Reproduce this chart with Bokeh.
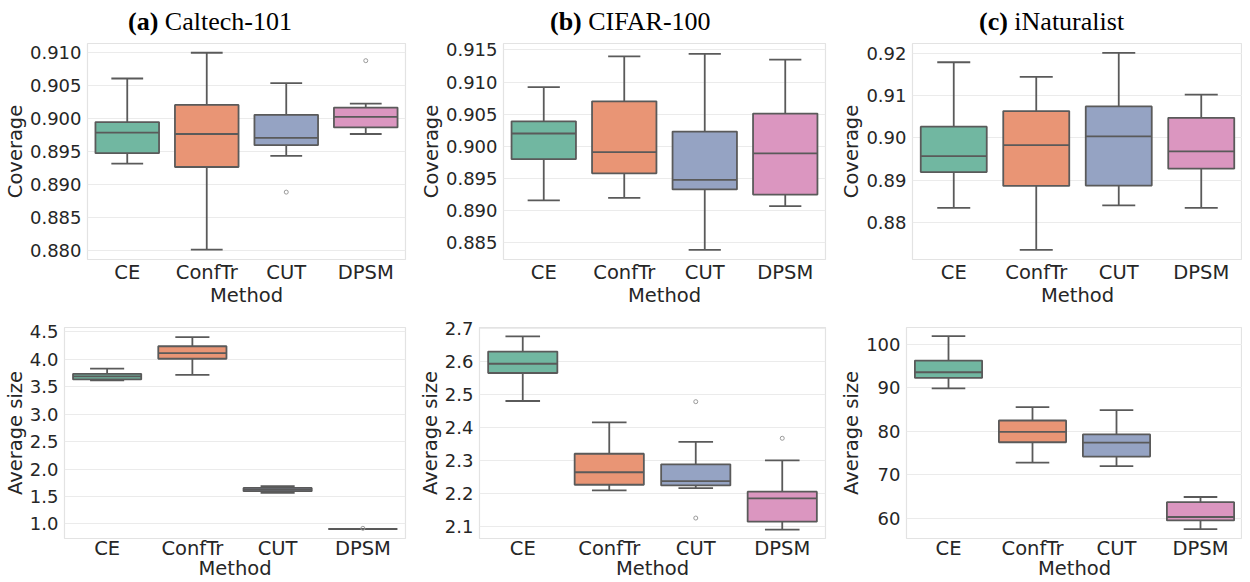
from bokeh.plotting import figure
from bokeh.layouts import column, row
from bokeh.models import Range1d, FixedTicker, PrintfTickFormatter, Div
from bokeh.embed import file_html
from bokeh.resources import INLINE

# ---------------- data ----------------
methods = ["CE", "ConfTr", "CUT", "DPSM"]
colors = ["#71b7a1", "#e99575", "#95a3c3", "#db96c0"]

# (a) Caltech-101 coverage
cal_cov_low = [0.8931, 0.8801, 0.8943, 0.8976]
cal_cov_q1 = [0.8947, 0.8926, 0.8959, 0.8986]
cal_cov_med = [0.8978, 0.8976, 0.8970, 0.9002]
cal_cov_q3 = [0.8994, 0.9020, 0.9005, 0.9016]
cal_cov_high = [0.9060, 0.9099, 0.9053, 0.9022]
cal_cov_out_m = ["CUT", "DPSM"]
cal_cov_out_v = [0.8888, 0.9087]

# (b) CIFAR-100 coverage
cif_cov_low = [0.8916, 0.8920, 0.8839, 0.8907]
cif_cov_q1 = [0.8980, 0.8958, 0.8933, 0.8925]
cif_cov_med = [0.9020, 0.8991, 0.8948, 0.8989]
cif_cov_q3 = [0.9039, 0.9070, 0.9023, 0.9051]
cif_cov_high = [0.9092, 0.9140, 0.9144, 0.9135]
cif_cov_out_m = []
cif_cov_out_v = []

# (c) iNaturalist coverage
inat_cov_low = [0.8834, 0.8734, 0.8840, 0.8834]
inat_cov_q1 = [0.8919, 0.8886, 0.8887, 0.8927]
inat_cov_med = [0.8957, 0.8983, 0.9004, 0.8968]
inat_cov_q3 = [0.9027, 0.9064, 0.9075, 0.9048]
inat_cov_high = [0.9180, 0.9145, 0.9202, 0.9103]
inat_cov_out_m = []
inat_cov_out_v = []

# (a) Caltech-101 average size
cal_size_low = [3.613, 3.716, 1.567, 0.906]
cal_size_q1 = [3.631, 4.008, 1.597, 0.908]
cal_size_med = [3.689, 4.110, 1.627, 0.910]
cal_size_q3 = [3.734, 4.236, 1.657, 0.911]
cal_size_high = [3.829, 4.403, 1.687, 0.913]
cal_size_out_m = ["DPSM"]
cal_size_out_v = [0.921]

# (b) CIFAR-100 average size
cif_size_low = [2.481, 2.210, 2.217, 2.091]
cif_size_q1 = [2.566, 2.227, 2.225, 2.115]
cif_size_med = [2.594, 2.265, 2.238, 2.186]
cif_size_q3 = [2.631, 2.321, 2.289, 2.206]
cif_size_high = [2.677, 2.416, 2.357, 2.301]
cif_size_out_m = ["CUT", "CUT", "DPSM"]
cif_size_out_v = [2.479, 2.126, 2.368]

# (c) iNaturalist average size
inat_size_low = [89.9, 72.8, 72.0, 57.5]
inat_size_q1 = [92.3, 77.5, 74.2, 59.5]
inat_size_med = [93.6, 79.9, 77.4, 60.3]
inat_size_q3 = [96.3, 82.5, 79.3, 63.7]
inat_size_high = [101.9, 85.6, 84.9, 64.9]
inat_size_out_m = []
inat_size_out_v = []

# tick labels
cal_cov_ticks = [0.880, 0.885, 0.890, 0.895, 0.900, 0.905, 0.910]
cif_cov_ticks = [0.885, 0.890, 0.895, 0.900, 0.905, 0.910, 0.915]
inat_cov_ticks = [0.88, 0.89, 0.90, 0.91, 0.92]
cal_size_ticks = [1.0, 1.5, 2.0, 2.5, 3.0, 3.5, 4.0, 4.5]
cif_size_ticks = [2.1, 2.2, 2.3, 2.4, 2.5, 2.6, 2.7]
inat_size_ticks = [60, 70, 80, 90, 100]

titles = [("(a)", "Caltech-101"), ("(b)", "CIFAR-100"), ("(c)", "iNaturalist")]
x_label = "Method"

# ---------------- style ----------------
LINE = "#5a5a5a"
TXT = "#262626"
GRID = "#ebebeb"
SANS = "DejaVu Sans"


def panel(low, q1, med, q3, high, out_m, out_v, ticks, fmt, yr, ylabel,
          width, height, bl, br, bt, bb, xstand):
    pos = list(range(len(methods)))
    p = figure(width=width, height=height, output_backend="svg",
               toolbar_location=None, x_range=Range1d(-0.5, len(methods) - 0.5),
               y_range=Range1d(*yr), min_border_left=bl, min_border_right=br,
               min_border_top=bt, min_border_bottom=bb)
    p.background_fill_color = "white"
    p.border_fill_color = "white"
    p.outline_line_color = "#e3e3e3"
    p.outline_line_width = 1.2
    p.xgrid.grid_line_color = None
    p.ygrid.grid_line_color = GRID
    p.ygrid.grid_line_width = 1

    # whiskers
    p.segment(x0=pos, y0=q3, x1=pos, y1=high, line_color=LINE, line_width=1.8)
    p.segment(x0=pos, y0=low, x1=pos, y1=q1, line_color=LINE, line_width=1.8)
    # caps
    p.segment(x0=[x - 0.2 for x in pos], y0=high, x1=[x + 0.2 for x in pos], y1=high,
              line_color=LINE, line_width=1.8)
    p.segment(x0=[x - 0.2 for x in pos], y0=low, x1=[x + 0.2 for x in pos], y1=low,
              line_color=LINE, line_width=1.8)
    # boxes
    p.vbar(x=pos, bottom=q1, top=q3, width=0.8, fill_color=colors,
           line_color=LINE, line_width=1.8)
    # medians
    p.segment(x0=[x - 0.4 for x in pos], y0=med, x1=[x + 0.4 for x in pos], y1=med,
              line_color=LINE, line_width=1.8)
    # outliers
    if out_m:
        ox = [methods.index(m) for m in out_m]
        p.scatter(x=ox, y=out_v, marker="circle", size=4, fill_color=None,
                  line_color="#9a9a9a", line_width=1)

    p.xaxis.ticker = FixedTicker(ticks=pos)
    p.xaxis.major_label_overrides = {i: m for i, m in enumerate(methods)}
    p.xaxis.axis_label = x_label
    p.yaxis.ticker = FixedTicker(ticks=ticks)
    p.yaxis.formatter = PrintfTickFormatter(format=fmt)
    p.yaxis.axis_label = ylabel
    for ax in (p.xaxis[0], p.yaxis[0]):
        ax.axis_line_color = None
        ax.major_tick_line_color = None
        ax.minor_tick_line_color = None
        ax.major_tick_out = 0
        ax.major_tick_in = 0
        ax.major_label_text_font = SANS
        ax.major_label_text_color = TXT
        ax.axis_label_text_font = SANS
        ax.axis_label_text_color = TXT
        ax.axis_label_text_font_style = "normal"
        ax.axis_label_text_font_size = "19.5px"
    p.xaxis.major_label_text_font_size = "19.5px"
    p.yaxis.major_label_text_font_size = "18px"
    p.xaxis.major_label_standoff = xstand[0]
    p.xaxis.axis_label_standoff = xstand[1]
    p.yaxis.major_label_standoff = 6
    p.yaxis.axis_label_standoff = 0
    return p


# titles row (HTML text, positions relative to the layout's left edge)
title_left = [128, 550, 979]
spans = "".join(
    f'<span style="position:absolute;left:{x}px;top:9px;white-space:nowrap;">'
    f'<b>{b}</b> {r}</span>'
    for x, (b, r) in zip(title_left, titles)
)
title_div = Div(
    text=(f'<div style="position:relative;width:1242px;height:38px;'
          f'font-family:\'Liberation Serif\',\'Times New Roman\',serif;'
          f'font-size:26px;line-height:26px;color:black;">{spans}</div>'),
    width=1242, height=38, margin=0)

top_stand = (1, -3)
bot_stand = (-2, -6)

yr_a = (0.8786, 0.9113)
yr_b = (0.8824, 0.9160)
yr_c = (0.87113, 0.92245)
pa = panel(cal_cov_low, cal_cov_q1, cal_cov_med, cal_cov_q3, cal_cov_high,
           cal_cov_out_m, cal_cov_out_v, cal_cov_ticks, "%.3f", yr_a, "Coverage",
           412, 272, 81, 7, 5, 51, top_stand)
pb = panel(cif_cov_low, cif_cov_q1, cif_cov_med, cif_cov_q3, cif_cov_high,
           cif_cov_out_m, cif_cov_out_v, cif_cov_ticks, "%.3f", yr_b, "Coverage",
           420, 272, 91, 7, 5, 51, top_stand)
pc = panel(inat_cov_low, inat_cov_q1, inat_cov_med, inat_cov_q3, inat_cov_high,
           inat_cov_out_m, inat_cov_out_v, inat_cov_ticks, "%.2f", yr_c, "Coverage",
           410, 272, 80, 0, 5, 51, top_stand)

pd = panel(cal_size_low, cal_size_q1, cal_size_med, cal_size_q3, cal_size_high,
           cal_size_out_m, cal_size_out_v, cal_size_ticks, "%.1f", (0.736, 4.577),
           "Average size", 412, 272, 57, 7, 14, 44, bot_stand)
pe = panel(cif_size_low, cif_size_q1, cif_size_med, cif_size_q3, cif_size_high,
           cif_size_out_m, cif_size_out_v, cif_size_ticks, "%.1f", (2.064, 2.704),
           "Average size", 420, 272, 67, 7, 17, 44, bot_stand)
pf = panel(inat_size_low, inat_size_q1, inat_size_med, inat_size_q3, inat_size_high,
           inat_size_out_m, inat_size_out_v, inat_size_ticks, "%d", (55.35, 103.9),
           "Average size", 410, 272, 74, 0, 12, 44, bot_stand)

layout = column(title_div, row(pa, pb, pc, spacing=0), row(pd, pe, pf, spacing=0),
                spacing=0)
open("out.html", "w").write(file_html(layout, INLINE))
